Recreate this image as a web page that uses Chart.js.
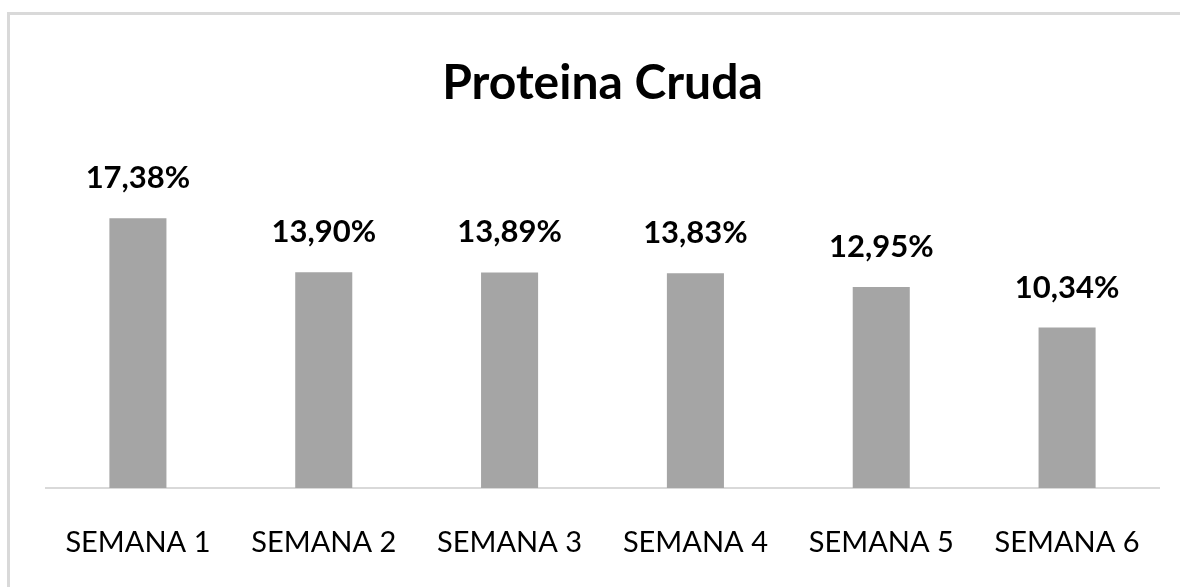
<!DOCTYPE html>
<html>
<head>
<meta charset="utf-8">
<script src="https://cdn.jsdelivr.net/npm/chart.js@4"></script>
<style>
  body { margin:0; background:#fff; overflow:hidden; }
  #frame { position:absolute; left:7px; top:12px; width:1200px; height:600px;
           border-left:3px solid #d9d9d9; border-top:3px solid #d9d9d9; }
  #wrap { position:absolute; left:0; top:0; width:1180px; height:587px; }
</style>
</head>
<body>
<div id="frame"></div>
<div id="wrap"><canvas id="barChart" width="1180" height="587"></canvas></div>
<script>
semanas = ['SEMANA 1', 'SEMANA 2', 'SEMANA 3', 'SEMANA 4', 'SEMANA 5', 'SEMANA 6'];
proteina = [17.38, 13.90, 13.89, 13.83, 12.95, 10.34];
etiquetas = ['17,38%', '13,90%', '13,89%', '13,83%', '12,95%', '10,34%'];

fuente = "Lato, 'Open Sans', sans-serif";

// linea base y etiquetas encima de cada barra
var etiquetasPlugin = {
    id: 'etiquetas',
    beforeDatasetsDraw: function(chart) {
        var ctx = chart.ctx;
        var x = chart.scales.x;
        var paso = x.getPixelForTick(1) - x.getPixelForTick(0);
        var x0 = x.getPixelForTick(0) - paso / 2;
        var x1 = x.getPixelForTick(semanas.length - 1) + paso / 2;
        var y0 = chart.scales.y.getPixelForValue(0);
        ctx.save();
        ctx.strokeStyle = '#d9d9d9';
        ctx.lineWidth = 2;
        ctx.beginPath();
        ctx.moveTo(x0, y0);
        ctx.lineTo(x1, y0);
        ctx.stroke();
        ctx.restore();
    },
    afterDatasetsDraw: function(chart) {
        var ctx = chart.ctx;
        var meta = chart.getDatasetMeta(0);
        ctx.save();
        ctx.fillStyle = '#000';
        ctx.font = 'bold 31px ' + fuente;
        ctx.textAlign = 'center';
        ctx.textBaseline = 'alphabetic';
        meta.data.forEach(function(bar, i) {
            ctx.fillText(etiquetas[i], bar.x, bar.y - 30);
        });
        ctx.restore();
    }
};

var ctx = document.getElementById('barChart').getContext('2d');
var barChart = new Chart(ctx, {
    type: 'bar',
    data: {
        labels: semanas,
        datasets: [{
            data: proteina,
            backgroundColor: '#a5a5a5',
            barPercentage: 0.307,
            categoryPercentage: 1
        }]
    },
    options: {
        responsive: false,
        animation: false,
        layout: { padding: { left: 45, right: 20, top: 0, bottom: 0 } },
        plugins: {
            legend: { display: false },
            tooltip: { enabled: false },
            title: {
                display: true,
                text: 'Proteina Cruda',
                color: '#000',
                font: { family: fuente, size: 48, weight: 'bold', lineHeight: 1.2 },
                padding: { top: 55, bottom: 65 }
            }
        },
        scales: {
            x: {
                grid: { display: false },
                border: { display: false },
                ticks: { color: '#000', padding: 29, font: { family: fuente, size: 29 } },
                afterFit: function(scale) { scale.height = 99; }
            },
            y: { display: false, min: 0, max: 20 }
        }
    },
    plugins: [etiquetasPlugin]
});
</script>
</body>
</html>
